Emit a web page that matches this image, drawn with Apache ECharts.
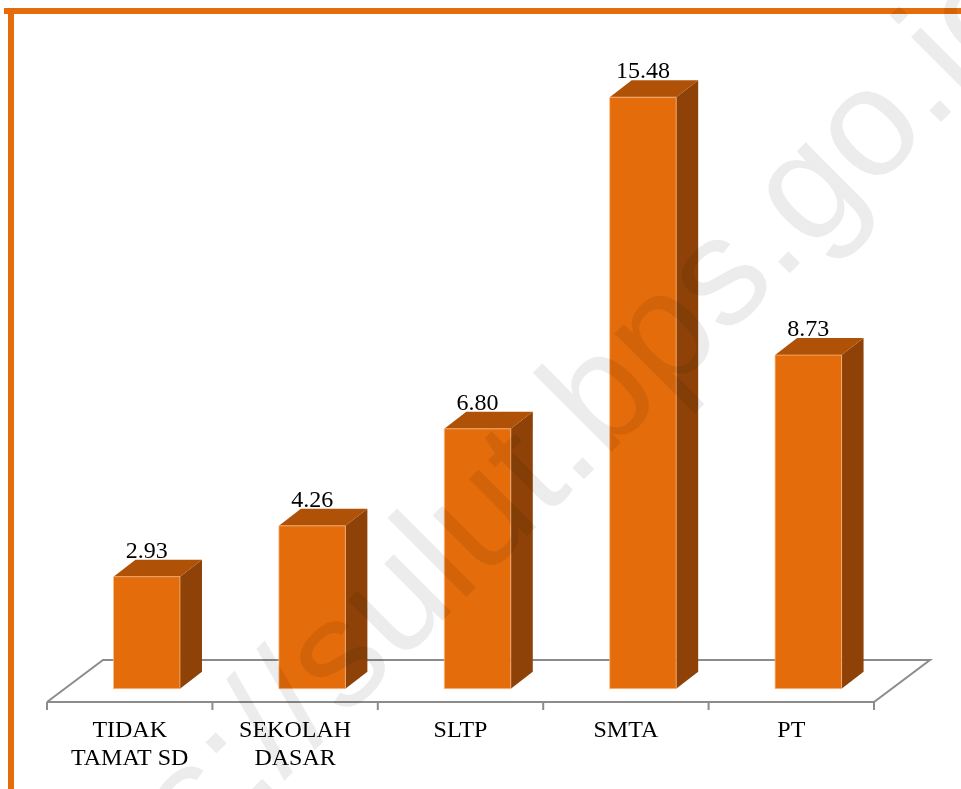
<!DOCTYPE html>
<html>
<head>
<meta charset="utf-8">
<script src="https://cdn.jsdelivr.net/npm/echarts@6/dist/echarts.min.js"></script>
<style>
html,body{margin:0;padding:0;background:#fff;}
#chart{width:961px;height:789px;}
</style>
</head>
<body>
<div id="chart"></div>
<script>
const categories = ['TIDAK\nTAMAT SD', 'SEKOLAH\nDASAR', 'SLTP', 'SMTA', 'PT'];
const values = [2.93, 4.26, 6.80, 15.48, 8.73];
const valueLabels = ['2.93', '4.26', '6.80', '15.48', '8.73'];
const watermarkText = 'https://sulut.bps.go.id';

const FRONT = '#E46C0A', TOP = '#AF5207', SIDE = '#8E4207';
const FLOOR = '#8C8C8C';
const DEPTH_X = 22, DEPTH_Y = 17;
const FLOOR_DX = 56, FLOOR_DY = 42;

function renderFloor(params, api) {
  const cs = params.coordSys;
  const fy = cs.y + cs.height, l = cs.x, r = cs.x + cs.width;
  const children = [{
    type: 'polyline',
    shape: { points: [[l, fy], [l + FLOOR_DX, fy - FLOOR_DY], [r + FLOOR_DX, fy - FLOOR_DY], [r, fy], [l, fy]] },
    style: { fill: 'none', stroke: FLOOR, lineWidth: 2 }
  }];
  const n = categories.length;
  for (let k = 0; k <= n; k++) {
    const x = l + cs.width * k / n;
    children.push({ type: 'line', shape: { x1: x, y1: fy, x2: x, y2: fy + 8 }, style: { stroke: FLOOR, lineWidth: 2 } });
  }
  return { type: 'group', children: children, silent: true };
}

function renderBar(params, api) {
  const i = api.value(0), v = api.value(1);
  const base = api.coord([i, 0]);
  const top = api.coord([i, v]);
  const band = api.size([1, 0])[0];
  const w = band * 0.402, off = band * 0.103;
  const x0 = base[0] + off - w / 2, x1 = x0 + w;
  const ty = top[1], by = base[1];
  return {
    type: 'group',
    children: [
      { type: 'polygon', shape: { points: [[x1, ty], [x1 + DEPTH_X, ty - DEPTH_Y], [x1 + DEPTH_X, by - DEPTH_Y], [x1, by]] },
        style: { fill: SIDE } },
      { type: 'polygon', shape: { points: [[x0, ty], [x0 + DEPTH_X, ty - DEPTH_Y], [x1 + DEPTH_X, ty - DEPTH_Y], [x1, ty]] },
        style: { fill: TOP } },
      { type: 'rect', shape: { x: x0, y: ty, width: w, height: by - ty },
        style: { fill: FRONT, stroke: 'rgba(250,190,140,0.7)', lineWidth: 1 } },
      { type: 'text', style: { text: valueLabels[params.dataIndex], x: (x0 + x1) / 2, y: ty - DEPTH_Y - 8,
        align: 'center', verticalAlign: 'middle', fontSize: 24, fontFamily: 'Liberation Serif', fill: '#000' } }
    ]
  };
}

const chart = echarts.init(document.getElementById('chart'), null, { renderer: 'canvas' });
chart.setOption({
  backgroundColor: '#fff',
  animation: false,
  grid: { left: 47, right: 87, top: 20, bottom: 87, containLabel: false },
  xAxis: {
    type: 'category',
    data: categories,
    axisLine: { show: false },
    axisTick: { show: false },
    axisLabel: { interval: 0, margin: 15, fontSize: 24, lineHeight: 28, fontFamily: 'Liberation Serif', color: '#000' },
    splitLine: { show: false }
  },
  yAxis: {
    type: 'value', min: -0.35, max: 17.5, show: false, splitLine: { show: false }
  },
  series: [
    { type: 'custom', renderItem: renderFloor, data: [[0, 0]], encode: { x: 0, y: 1 }, z: 1, silent: true, clip: false },
    { type: 'custom', renderItem: renderBar, data: values.map((v, i) => [i, v]), encode: { x: 0, y: 1 }, z: 2, clip: false }
  ],
  graphic: [
    { type: 'rect', shape: { x: 4, y: 8, width: 957, height: 6 }, style: { fill: '#E46C0A' }, z: 50, silent: true },
    { type: 'rect', shape: { x: 8, y: 8, width: 6, height: 781 }, style: { fill: '#E46C0A' }, z: 50, silent: true },
    { type: 'text', x: -13, y: 1016, rotation: Math.PI / 4, z: 100, silent: true,
      style: { text: watermarkText, fontSize: 154, fontFamily: 'Liberation Sans', fill: 'rgba(0,0,0,0.075)', align: 'left', verticalAlign: 'middle' } }
  ]
});
</script>
</body>
</html>
